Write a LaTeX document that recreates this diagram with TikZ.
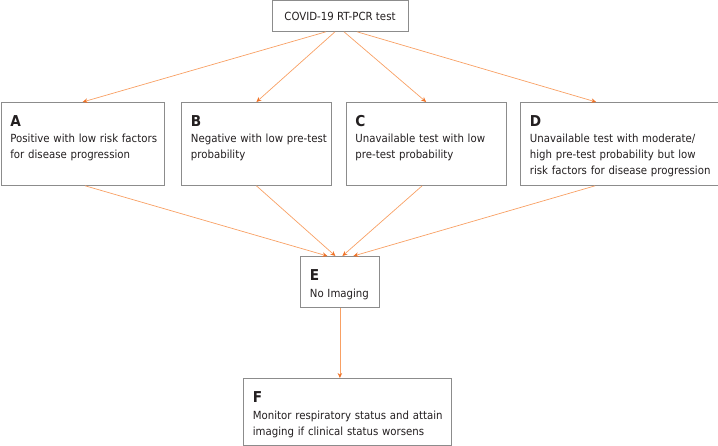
\documentclass[tikz,border=0pt]{standalone}
\usepackage{fontspec}
\setmainfont{DejaVu Sans}[FakeStretch=0.91]
\usetikzlibrary{arrows.meta}
\definecolor{framegray}{RGB}{140,140,140}
\definecolor{flowline}{RGB}{248,160,100}
\definecolor{flowtip}{RGB}{240,115,40}
\definecolor{inkblack}{RGB}{35,31,32}
\newcommand{\stageletter}[1]{{\fontsize{15}{16.3}\selectfont\bfseries #1}}

\begin{document}
\begin{tikzpicture}[x=1pt,y=-1pt,
  stage/.style={draw=framegray, line width=0.8pt, anchor=north west, align=left,
    inner xsep=9.5pt, inner ysep=0pt, text height=23.7pt, text=inkblack},
  flow/.style={flowline, line width=0.7pt, -{Stealth[length=5pt,width=4.5pt,color=flowtip]}}]
\useasboundingbox (0,0) rectangle (718,446);
\fontsize{11.2}{16.3}\selectfont

% test at the top
\node[draw=framegray, line width=0.8pt, text=inkblack, anchor=north,
  minimum width=136pt, minimum height=30.5pt, inner sep=0pt] (test) at (340,0.5) {COVID-19 RT-PCR test};

% the four cases
\node[stage, text width=144.5pt, text depth=59.3pt] (A) at (0.5,102)
  {\stageletter{A}\\\mbox{Positive with low risk factors}\\\mbox{for disease progression}};
\node[stage, text width=131pt, text depth=59.3pt] (B) at (181,102)
  {\stageletter{B}\\\mbox{Negative with low pre-test}\\probability};
\node[stage, text width=141.5pt, text depth=59.3pt] (C) at (345.5,102)
  {\stageletter{C}\\\mbox{Unavailable test with low}\\\mbox{pre-test probability}};
\node[stage, text width=178.5pt, text depth=59.3pt] (D) at (520,102)
  {\stageletter{D}\\\mbox{Unavailable test with moderate/}\\\mbox{high pre-test probability but low}\\\mbox{risk factors for disease progression}};

% outcome
\node[stage, text width=60pt, text height=24.5pt, text depth=26.3pt] (E) at (300,256)
  {\stageletter{E}\\\mbox{No Imaging}};
\node[stage, text width=189pt, text height=24.5pt, text depth=42.8pt] (F) at (243,378)
  {\stageletter{F}\\\mbox{Monitor respiratory status and attain}\\\mbox{imaging if clinical status worsens}};

\draw[flow] ([xshift=-14pt]test.south) -- (A.north);
\draw[flow] ([xshift=-5pt]test.south) -- (B.north);
\draw[flow] ([xshift=4pt]test.south) -- (C.north);
\draw[flow] ([xshift=17pt]test.south) -- ([xshift=-23pt]D.north);

\draw[flow] ([xshift=2.5pt]A.south) -- ([xshift=-12.5pt]E.north);
\draw[flow] (B.south) -- ([xshift=-4.5pt]E.north);
\draw[flow] ([xshift=-4pt]C.south) -- ([xshift=2.5pt]E.north);
\draw[flow] ([xshift=-24pt]D.south) -- ([xshift=13.5pt]E.north);
\draw[flow] (E.south) -- (E.south |- F.north);
\end{tikzpicture}
\end{document}
